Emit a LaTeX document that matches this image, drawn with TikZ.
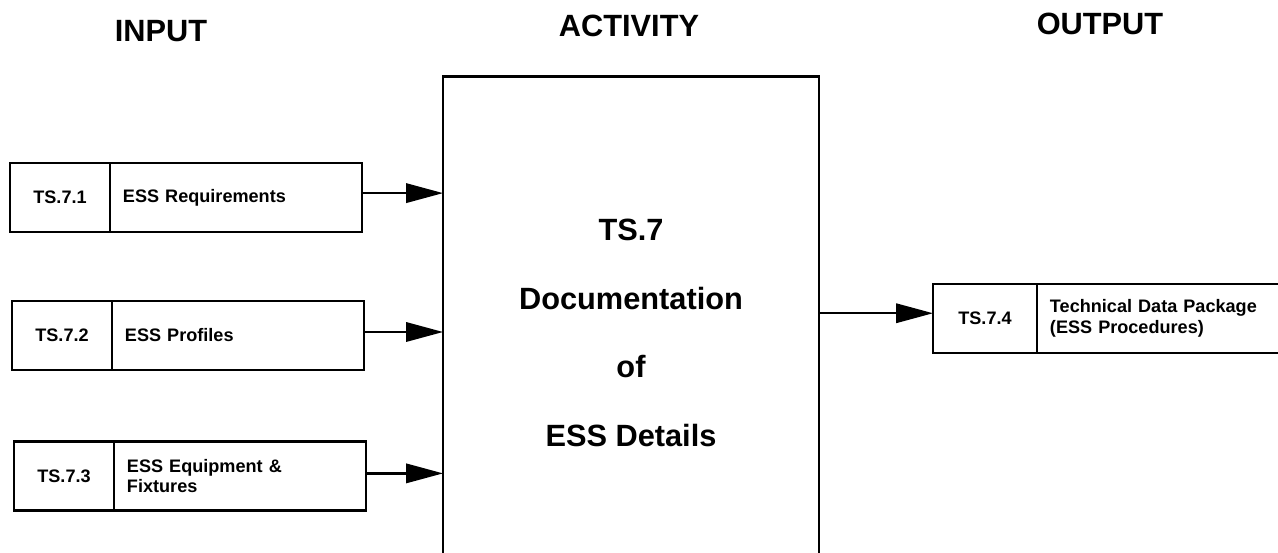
\documentclass[tikz,border=0pt]{standalone}
\usepackage{fontspec}
\setmainfont{Liberation Sans}
\usetikzlibrary{positioning,arrows.meta}

\tikzset{
  idcell/.style={draw, line width=1.5pt, outer sep=0pt, minimum width=2cm,
    minimum height=1.38cm, font=\fontsize{10.3}{11.6}\selectfont\bfseries},
  lblcell/.style={draw, line width=1.5pt, outer sep=0pt, minimum width=5.04cm,
    minimum height=1.38cm, inner xsep=0.26cm, text width=4.52cm, align=left,
    font=\fontsize{10.3}{11.6}\selectfont\bfseries},
  head/.style={font=\fontsize{17.5}{20}\selectfont\bfseries},
  actbox/.style={draw, line width=1.6pt, outer sep=0pt, minimum width=7.52cm,
    minimum height=10.5cm},
  flow/.style={line width=1.3pt, -{Triangle[length=21pt,width=11pt]}}
}

\begin{document}
\begin{tikzpicture}[x=0.02cm,y=-0.02cm]

\useasboundingbox (0,0) rectangle (1278,552);
\clip (0,0) rectangle (1278,552);

\node[head] (hin) at (161,31) {INPUT};
\node[head] (hact) at (629,26) {ACTIVITY};
\node[head] (hout) at (1100,24) {OUTPUT};

\node[actbox] (act) at (631,339) {};
\node[align=center, font=\fontsize{17.5}{39}\selectfont\bfseries] (acttxt) at (631,333)
  {TS.7\\Documentation\\of\\ESS Details};

\node[idcell] (id1) at (60,197.5) {TS.7.1};
\node[lblcell, right=0pt of id1] (lbl1) {ESS Requirements};

\node[idcell] (id2) at (62,335.5) {TS.7.2};
\node[lblcell, right=0pt of id2] (lbl2) {ESS Profiles};

\node[idcell] (id3) at (64,476) {TS.7.3};
\node[lblcell, right=0pt of id3] (lbl3) {ESS Equipment \&\\Fixtures};

\node[idcell, minimum width=2.08cm] (outid) at (985,318.5) {TS.7.4};
\node[lblcell, minimum width=6cm, text width=5.48cm, right=0pt of outid] (outlbl)
  {Technical Data Package\\(ESS Procedures)};

\draw[flow] ([yshift=2.5pt]lbl1.east) -- ([yshift=2.5pt]lbl1.east -| act.west);
\draw[flow] ([yshift=2pt]lbl2.east) -- ([yshift=2pt]lbl2.east -| act.west);
\draw[flow] ([yshift=1.5pt]lbl3.east) -- ([yshift=1.5pt]lbl3.east -| act.west);
\draw[flow] ([yshift=3pt]act.east |- outid.west) -- ([yshift=3pt]outid.west);

\end{tikzpicture}
\end{document}
